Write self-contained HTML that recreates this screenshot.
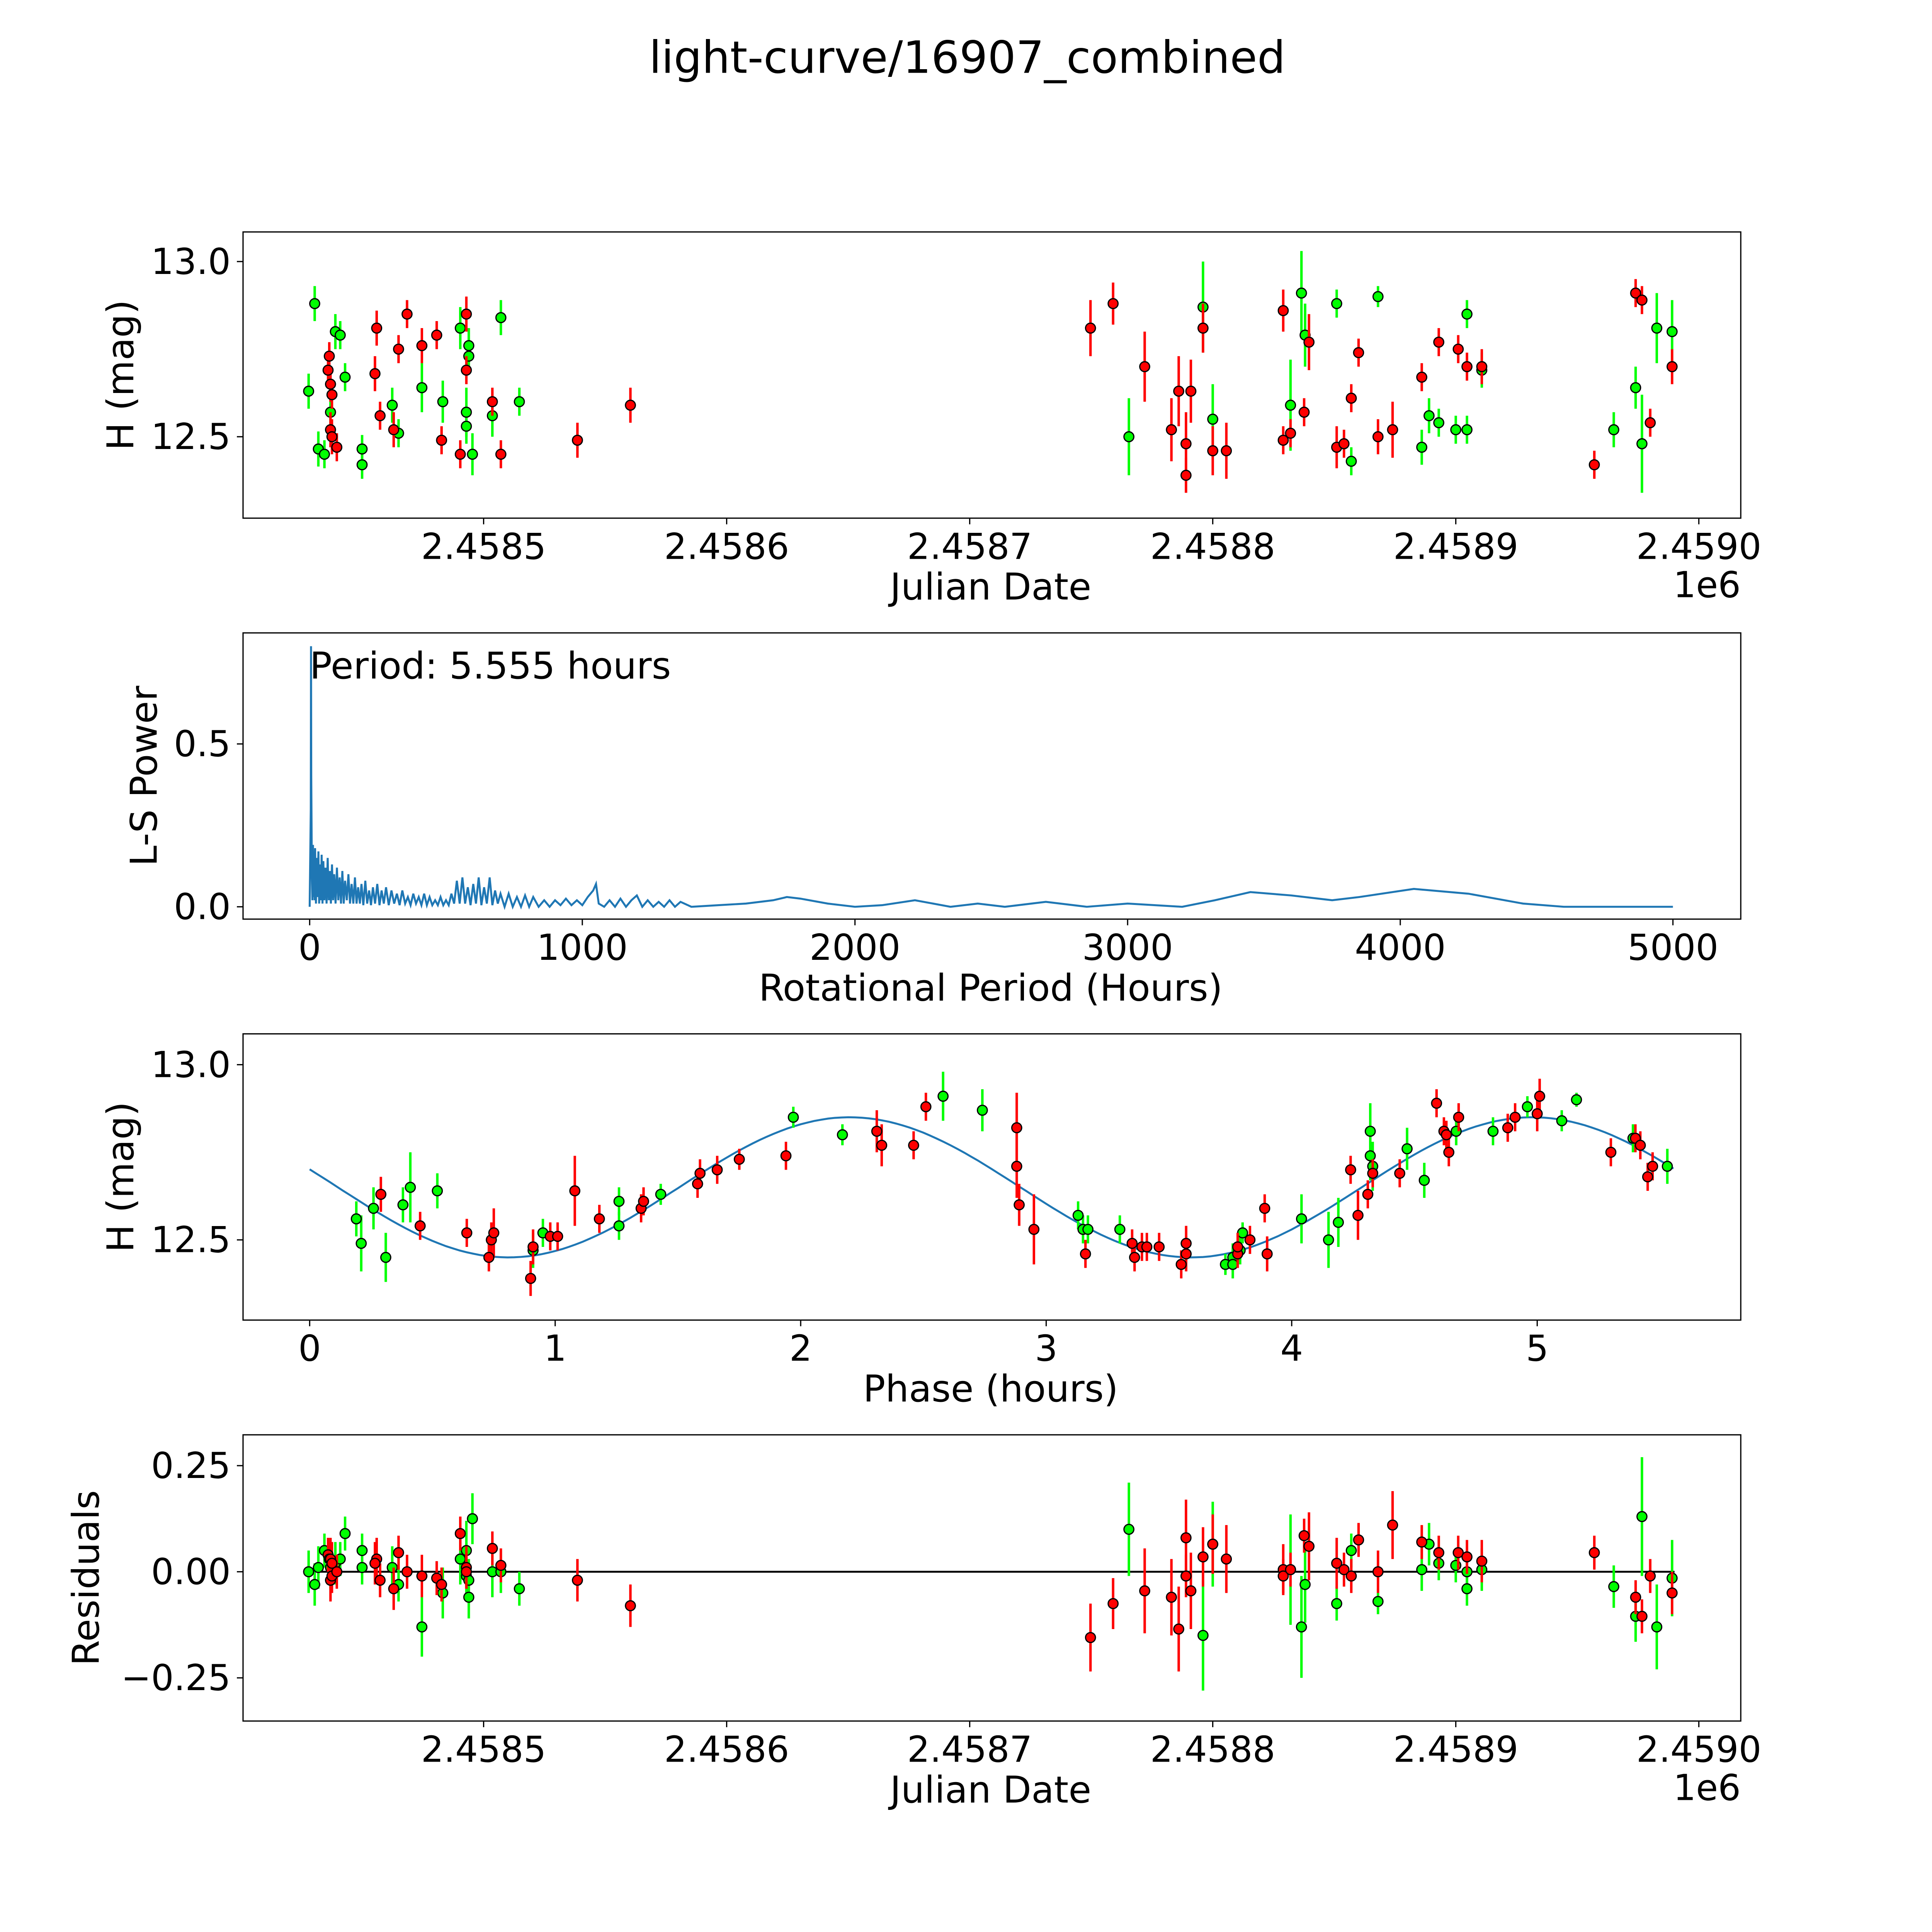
<!DOCTYPE html>
<html><head><meta charset="utf-8"><style>
html,body{margin:0;padding:0;background:#fff;overflow:hidden;width:100vw;height:100vh;}
svg{display:block;width:100vw;height:100vh;}
text{font-family:"DejaVu Sans","Liberation Sans",sans-serif;fill:#000;}
</style></head><body>
<svg id="fig" xmlns="http://www.w3.org/2000/svg" viewBox="0 0 1566 1566" preserveAspectRatio="none">
<rect x="0" y="0" width="1566" height="1566" fill="#fff"/>
<text x="784" y="59" font-size="36" text-anchor="middle">light-curve/16907_combined</text>
</svg>
<script>
const gDays=[-72,-69.5,-68,-65.5,-63,-61,-59,-57,-50,-50,-37.6,-35,-25.4,-16.8,-9.6,-7.1,-7.1,-6.1,-6.1,-4.6,3.6,7.1,14.7,
265.5,296,300,332,336.5,338,351,357,368,386,389,393,400,404.6,404.6,410.7,465,474,476.6,482.7,489];
const gMag=[12.63,12.88,12.465,12.45,12.57,12.80,12.79,12.67,12.465,12.42,12.59,12.51,12.64,12.60,12.81,12.57,12.53,12.76,12.73,12.45,12.56,12.84,12.60,
12.50,12.87,12.55,12.59,12.91,12.79,12.88,12.43,12.90,12.47,12.56,12.54,12.52,12.52,12.85,12.69,12.52,12.64,12.48,12.81,12.80];
const gErr=[0.05,0.05,0.05,0.04,0.05,0.05,0.04,0.04,0.04,0.04,0.05,0.04,0.07,0.06,0.06,0.07,0.05,0.05,0.05,0.06,0.06,0.05,0.04,
0.11,0.13,0.10,0.13,0.12,0.09,0.04,0.04,0.03,0.05,0.05,0.04,0.04,0.04,0.04,0.05,0.05,0.06,0.14,0.10,0.09];
const gRes=[0.00,-0.03,0.01,0.05,0.01,0.02,0.03,0.09,0.05,0.01,0.01,-0.03,-0.13,-0.05,0.03,0.05,-0.01,-0.02,-0.06,0.125,0.00,0.00,-0.04,
0.10,-0.15,0.065,0.005,-0.13,-0.03,-0.075,0.05,-0.07,0.005,0.065,0.02,0.015,-0.04,0.00,0.005,-0.035,-0.105,0.13,-0.13,-0.015];
const rDays=[-64,-63.5,-63,-62.4,-63,-62.4,-60.4,-44,-44.7,-42.6,-37,-35,-31.5,-25.4,-19.3,-17.3,-9.6,-7.1,-7.1,3.6,7.1,38.6,60.4,
249.7,259,272,283,286,289,289,291,296,300,305.6,329,329,332,337.6,339.6,351,354,357,360,368,374,386,393,401,404.6,410.7,457,474,476.6,480,489];
const rMag=[12.69,12.73,12.65,12.62,12.52,12.50,12.47,12.81,12.68,12.56,12.52,12.75,12.85,12.76,12.79,12.49,12.45,12.85,12.69,12.60,12.45,12.49,12.59,
12.81,12.88,12.70,12.52,12.63,12.48,12.39,12.63,12.81,12.46,12.46,12.86,12.49,12.51,12.57,12.77,12.47,12.48,12.61,12.74,12.50,12.52,12.67,12.77,12.75,12.70,12.70,12.42,12.91,12.89,12.54,12.70];
const rErr=[0.04,0.04,0.05,0.04,0.05,0.05,0.04,0.05,0.05,0.04,0.05,0.04,0.04,0.05,0.04,0.04,0.04,0.05,0.04,0.04,0.04,0.05,0.05,
0.08,0.06,0.10,0.09,0.10,0.09,0.05,0.09,0.07,0.07,0.08,0.06,0.04,0.04,0.04,0.08,0.06,0.04,0.04,0.04,0.05,0.08,0.04,0.04,0.04,0.04,0.05,0.04,0.04,0.04,0.04,0.05];
const rRes=[0.04,0.03,-0.02,-0.01,0.03,0.02,0.00,0.03,0.02,-0.02,-0.04,0.045,0.00,-0.01,-0.015,-0.03,0.09,0.01,0.0,0.055,0.015,-0.02,-0.08,
-0.155,-0.075,-0.045,-0.06,-0.135,0.08,-0.01,-0.045,0.035,0.065,0.03,0.005,-0.01,0.005,0.085,0.06,0.02,0.005,-0.01,0.075,0.0,0.11,0.07,0.045,0.045,0.035,0.025,0.045,-0.06,-0.105,-0.01,-0.05];
const jdTicks=[0,100,200,300,400,500];
const jdTickLabels=["2.4585","2.4586","2.4587","2.4588","2.4589","2.4590"];
const magTicks=[12.5,13.0];
const magTickLabels=["12.5","13.0"];
const resTicks=[-0.25,0,0.25];
const resTickLabels=["\u22120.25","0.00","0.25"];

const periodHours=[0,4,5,6,8,10,12,14,16,18,
20,23,26,29,32,35,38,41,44,47,
50,54,58,62,66,70,74,78,82,86,
90,95,100,105,110,115,120,125,130,136,
142,148,154,160,166,172,178,184,190,197,
204,211,218,225,232,240,248,256,264,272,
280,290,300,310,320,330,340,350,360,370,
380,390,400,410,420,430,440,450,460,470,
480,490,500,510,520,530,540,550,560,570,
580,590,600,610,620,630,640,650,660,670,
680,690,700,715,730,745,760,775,790,805,
820,840,860,880,900,920,940,960,980,1000,
1020,1040,1050,1060,1080,1100,1120,1140,1160,1180,
1200,1220,1240,1260,1280,1300,1320,1340,1360,1400,
1500,1600,1700,1750,1800,1900,2000,2100,2220,2350,
2450,2550,2700,2850,3000,3200,3320,3450,3600,3750,
3850,4050,4250,4450,4600,5000];
const lsPower=[0,0.3,0.80,0.4,0.10,0.02,0.19,0.03,0.17,0.02,
0.18,0.01,0.15,0.03,0.17,0.01,0.13,0.02,0.16,0.01,
0.14,0.02,0.12,0.01,0.15,0.02,0.11,0.01,0.13,0.02,
0.10,0.01,0.12,0.02,0.09,0.01,0.11,0.01,0.08,0.02,
0.10,0.01,0.07,0.01,0.09,0.01,0.06,0.01,0.07,0.005,
0.08,0.01,0.05,0.005,0.06,0.01,0.07,0.005,0.05,0.01,
0.06,0.005,0.05,0.01,0.04,0.005,0.05,0.01,0.03,0.005,
0.04,0.01,0.03,0.005,0.04,0.005,0.03,0.005,0.02,0.005,
0.03,0.005,0.02,0.005,0.04,0.01,0.08,0.01,0.09,0.01,
0.06,0.005,0.07,0.01,0.09,0.005,0.06,0.01,0.09,0.005,
0.05,0.01,0.04,0.0,0.04,0.0,0.03,0.0,0.035,0.0,
0.03,0.0,0.02,0.0,0.02,0.005,0.025,0.005,0.02,0.005,
0.03,0.05,0.07,0.01,0.0,0.02,0.0,0.025,0.0,0.02,
0.035,0.0,0.02,0.0,0.015,0.0,0.02,0.0,0.015,0.0,
0.005,0.01,0.02,0.03,0.025,0.01,0.0,0.005,0.02,0.0,
0.01,0.0,0.015,0.0,0.01,0.0,0.02,0.045,0.035,0.02,
0.03,0.055,0.04,0.01,0.0,0.0];
const perTicks=[0,1000,2000,3000,4000,5000];
const powTicks=[0,0.5];
const powTickLabels=["0.0","0.5"];

const gPhase=[0.19,0.21,0.26,0.31,0.38,0.41,0.52,0.91,0.95,1.26,1.26,1.43,1.97,2.17,2.58,2.74,3.13,3.15,3.17,3.30,3.73,3.76,3.76,3.79,3.80,4.04,4.15,4.19,4.32,4.32,4.33,4.47,4.54,4.67,4.82,4.96,5.10,5.16,5.39,5.53];
const gPhaseMag=[12.56,12.49,12.59,12.45,12.60,12.65,12.64,12.47,12.52,12.54,12.61,12.63,12.85,12.80,12.91,12.87,12.57,12.53,12.53,12.53,12.43,12.45,12.43,12.47,12.52,12.56,12.50,12.55,12.74,12.81,12.71,12.76,12.67,12.81,12.81,12.88,12.84,12.90,12.79,12.71];
const gPhaseErr=[0.05,0.08,0.06,0.07,0.05,0.10,0.05,0.05,0.04,0.04,0.04,0.03,0.03,0.03,0.07,0.06,0.04,0.04,0.04,0.04,0.03,0.04,0.04,0.04,0.03,0.07,0.08,0.07,0.07,0.08,0.07,0.06,0.05,0.04,0.04,0.03,0.03,0.02,0.04,0.05];
const rPhase=[0.29,0.45,0.64,0.73,0.74,0.75,0.90,0.91,0.98,1.01,1.08,1.18,1.35,1.36,1.58,1.59,1.66,1.75,1.94,2.31,2.33,2.46,2.51,2.88,2.88,2.89,2.95,3.16,3.35,3.36,3.39,3.41,3.46,3.55,3.57,3.57,3.78,3.78,3.83,3.89,3.90,4.24,4.27,4.31,4.33,4.44,4.59,4.62,4.63,4.64,4.68,4.88,4.91,5.00,5.01,5.30,5.40,5.42,5.45,5.47];
const rPhaseMag=[12.63,12.54,12.52,12.45,12.50,12.52,12.39,12.48,12.51,12.51,12.64,12.56,12.59,12.61,12.66,12.69,12.70,12.73,12.74,12.81,12.77,12.77,12.88,12.82,12.71,12.60,12.53,12.46,12.49,12.45,12.48,12.48,12.48,12.43,12.49,12.46,12.46,12.48,12.50,12.59,12.46,12.70,12.57,12.63,12.69,12.69,12.89,12.81,12.80,12.75,12.85,12.82,12.85,12.86,12.91,12.75,12.79,12.77,12.68,12.71];
const rPhaseErr=[0.05,0.04,0.04,0.04,0.05,0.07,0.05,0.05,0.04,0.04,0.10,0.04,0.04,0.04,0.04,0.04,0.04,0.03,0.04,0.06,0.06,0.04,0.04,0.10,0.09,0.06,0.10,0.04,0.04,0.04,0.04,0.04,0.04,0.04,0.05,0.05,0.04,0.04,0.04,0.04,0.05,0.04,0.07,0.04,0.04,0.04,0.04,0.04,0.04,0.04,0.04,0.04,0.04,0.05,0.05,0.04,0.04,0.04,0.04,0.04];
const phaseTicks=[0,1,2,3,4,5];
const modelMean=12.65, modelAmp=0.2, modelPeriod=2.78, modelPeakPhase=2.2, modelMaxPhase=5.555;

const NS="http://www.w3.org/2000/svg";
const svg=document.getElementById('fig');
function mk(tag,attrs,parent){const e=document.createElementNS(NS,tag);for(const k in attrs)e.setAttribute(k,attrs[k]);(parent||svg).appendChild(e);return e;}
const L=197,R=1411,H=232;
function lin(d0,d1,p0,p1){return v=>p0+(v-d0)*(p1-p0)/(d1-d0);}

function axesBox(top,name){
  const g=mk('g',{});
  
  
  return g;
}
function frame(g,top){
  const r=mk('rect',{x:L,y:top,width:R-L,height:H,fill:'none',stroke:'#000','stroke-width':1},g);
  
  
}
function xTicks(g,top,sx,vals,labels){
  vals.forEach((v,i)=>{
    const x=sx(v);
    const t=mk('line',{x1:x,x2:x,y1:top+H,y2:top+H+5,stroke:'#000','stroke-width':1},g);
    
    
    const tx=mk('text',{x:x,y:top+H+33,'font-size':29,'text-anchor':'middle'},g);
    tx.textContent=labels[i];
    
    
  });
}
function yTicks(g,sy,vals,labels){
  vals.forEach((v,i)=>{
    const y=sy(v);
    const t=mk('line',{x1:L-5,x2:L,y1:y,y2:y,stroke:'#000','stroke-width':1},g);
    
    
    const tx=mk('text',{x:L-10,y:y+10,'font-size':29,'text-anchor':'end'},g);
    tx.textContent=labels[i];
    
    
  });
}
function label(g,x,y,txt,rot,name){
  const t=mk('text',{x:x,y:y,'font-size':30,'text-anchor':'middle',transform:rot?`rotate(-90 ${x} ${y})`:''},g);
  t.textContent=txt;
  
  
}
function points(g,xs,ys,es,sx,sy,col,name){
  const eg=mk('g',{},g);
  for(let i=0;i<xs.length;i++){
    const x=sx(xs[i]);
    const l=mk('line',{x1:x,x2:x,y1:sy(ys[i]-es[i]),y2:sy(ys[i]+es[i]),stroke:col,'stroke-width':2},eg);
    
    
  }
  for(let i=0;i<xs.length;i++){
    const c=mk('circle',{cx:sx(xs[i]),cy:sy(ys[i]),r:4,fill:col,stroke:'#000','stroke-width':1},eg);
    
    
  }
}

(function(){
  const top=188; const g=axesBox(top,'raw-light-curve-panel');
  const sx=lin(0,100,392,589); const sy=lin(12.5,13.0,top+166,top+24);
  points(g,gDays,gMag,gErr,sx,sy,'#00ff00','green-observation');
  points(g,rDays,rMag,rErr,sx,sy,'#ff0000','red-observation');
  frame(g,top);
  xTicks(g,top,sx,jdTicks,jdTickLabels);
  yTicks(g,sy,magTicks,magTickLabels);
  const off=mk('text',{x:1411,y:top+H+64,'font-size':29,'text-anchor':'end'},g);off.textContent='1e6';
  
  
  label(g,803,top+H+66,'Julian Date',false,'x-axis-title');
  label(g,108,top+H/2,'H (mag)',true,'y-axis-title');
})();

(function(){
  const top=513; const g=axesBox(top,'periodogram-panel');
  const sx=lin(0,5000,251,1356); const sy=lin(0,0.5,top+222,top+90);
  const pts=periodHours.map((p,i)=>sx(p).toFixed(1)+','+sy(lsPower[i]).toFixed(1)).join(' ');
  const pl=mk('polyline',{points:pts,fill:'none',stroke:'#1f77b4','stroke-width':1.6},g);
  
  
  frame(g,top);
  xTicks(g,top,sx,perTicks,perTicks.map(String));
  yTicks(g,sy,powTicks,powTickLabels);
  const t=mk('text',{x:251,y:top+37,'font-size':30},g);t.textContent='Period: 5.555 hours';
  
  
  label(g,803,top+H+66,'Rotational Period (Hours)',false,'x-axis-title');
  label(g,127,top+H/2,'L-S Power',true,'y-axis-title');
})();

(function(){
  const top=838; const g=axesBox(top,'phased-light-curve-panel');
  const sx=lin(0,1,251,450); const sy=lin(12.5,13.0,top+167,top+25);
  let pts=[];
  for(let k=0;k<=200;k++){const p=modelMaxPhase*k/200;const m=modelMean+modelAmp*Math.cos(2*Math.PI*(p-modelPeakPhase)/modelPeriod);pts.push(sx(p).toFixed(1)+','+sy(m).toFixed(1));}
  const pl=mk('polyline',{points:pts.join(' '),fill:'none',stroke:'#1f77b4','stroke-width':1.6},g);
  
  
  points(g,gPhase,gPhaseMag,gPhaseErr,sx,sy,'#00ff00','green-phased');
  points(g,rPhase,rPhaseMag,rPhaseErr,sx,sy,'#ff0000','red-phased');
  frame(g,top);
  xTicks(g,top,sx,phaseTicks,phaseTicks.map(String));
  yTicks(g,sy,magTicks,magTickLabels);
  label(g,803,top+H+66,'Phase (hours)',false,'x-axis-title');
  label(g,108,top+H/2,'H (mag)',true,'y-axis-title');
})();

(function(){
  const top=1163; const g=axesBox(top,'residuals-panel');
  const sx=lin(0,100,392,589); const sy=lin(0,0.25,top+111,top+25);
  const z=mk('line',{x1:sx(-71),x2:sx(490),y1:sy(0),y2:sy(0),stroke:'#000','stroke-width':1.5},g);
  
  
  points(g,gDays,gRes,gErr,sx,sy,'#00ff00','green-residual');
  points(g,rDays,rRes,rErr,sx,sy,'#ff0000','red-residual');
  frame(g,top);
  xTicks(g,top,sx,jdTicks,jdTickLabels);
  yTicks(g,sy,resTicks,resTickLabels);
  const off=mk('text',{x:1411,y:top+H+64,'font-size':29,'text-anchor':'end'},g);off.textContent='1e6';
  
  
  label(g,803,top+H+66,'Julian Date',false,'x-axis-title');
  label(g,80,top+H/2,'Residuals',true,'y-axis-title');
})();
</script>
</body></html>
